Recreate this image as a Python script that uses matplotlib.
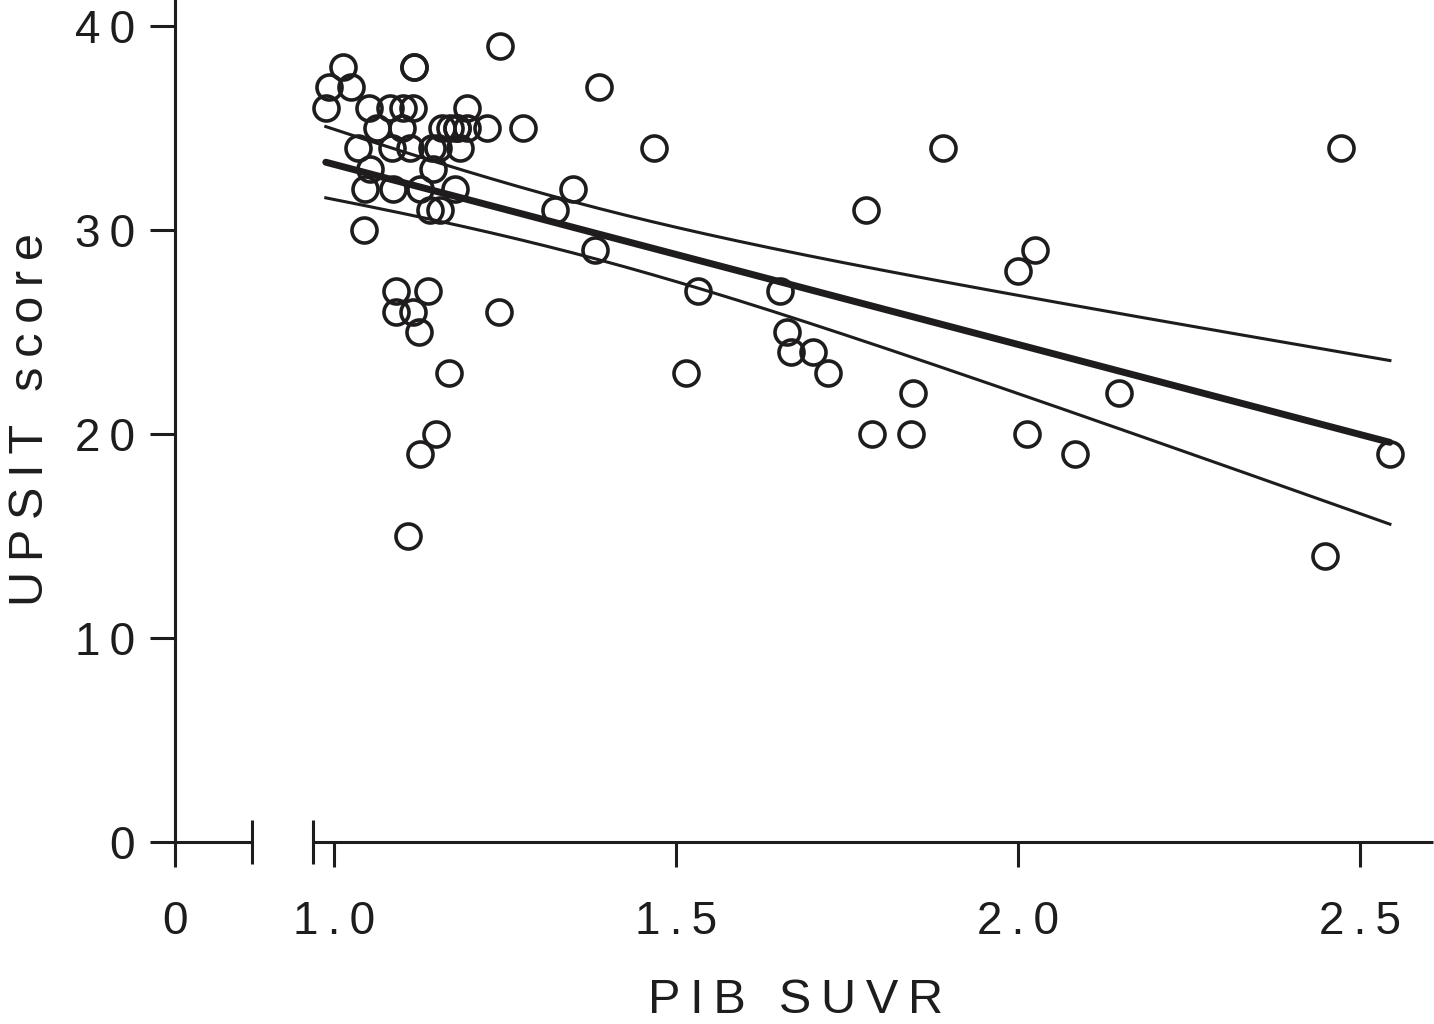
import numpy as np
import matplotlib
matplotlib.use("Agg")
import matplotlib.pyplot as plt
from matplotlib.scale import FuncScale

# ---- data ----
pib_suvr = [0.988, 0.993, 1.013, 1.025, 1.035, 1.045, 1.044, 1.051, 1.053, 1.063,
            1.082, 1.085, 1.086, 1.091, 1.091, 1.101, 1.099, 1.115, 1.111, 1.115,
            1.108, 1.117, 1.117, 1.126, 1.124, 1.126, 1.137, 1.140, 1.155, 1.143,
            1.152, 1.145, 1.149, 1.158, 1.170, 1.180, 1.180, 1.168, 1.177, 1.184,
            1.194, 1.194, 1.224, 1.241, 1.243, 1.276, 1.323, 1.349, 1.382, 1.387,
            1.468, 1.515, 1.532, 1.652, 1.662, 1.668, 1.700, 1.722, 1.778, 1.787,
            1.844, 1.846, 1.890, 2.000, 2.025, 2.013, 2.083, 2.148, 2.449, 2.472,
            2.544]
upsit = [36, 37, 38, 37, 34, 32, 30, 36, 33, 35,
         36, 34, 32, 27, 26, 36, 35, 36, 34, 26,
         15, 38, 38, 32, 25, 19, 27, 31, 31, 34,
         34, 33, 20, 35, 35, 35, 35, 23, 32, 34,
         36, 35, 35, 26, 39, 35, 31, 32, 29, 37,
         34, 23, 27, 27, 25, 24, 24, 23, 31, 20,
         20, 22, 34, 28, 29, 20, 19, 22, 14, 34,
         19]

x_ticks = [0, 1.0, 1.5, 2.0, 2.5]
x_tick_labels = ["0", "1.0", "1.5", "2.0", "2.5"]
y_ticks = [0, 10, 20, 30, 40]
y_tick_labels = ["0", "10", "20", "30", "40"]
x_label = "PIB SUVR"
y_label = "UPSIT score"

INK = "#1e1c1d"
TS = "\u2009"  # thin space used for letter spacing


def spaced(s):
    return TS.join(list(s))


plt.rcParams["font.family"] = ["Liberation Sans", "DejaVu Sans"]

W, H = 1434, 1024
fig = plt.figure(figsize=(W / 100, H / 100), dpi=100)
ax = fig.add_axes([175 / W, 182 / H, 1258 / W, 842 / H])

# broken x-axis: 0 placed just left of the break, linear from 0.95 upward
X0 = 0.7675


def fwd(x):
    x = np.asarray(x, dtype=float)
    return np.where(x >= 0.95, x, X0 + x * (0.95 - X0) / 0.95)


def inv(y):
    y = np.asarray(y, dtype=float)
    return np.where(y >= 0.95, y, (y - X0) * 0.95 / (0.95 - X0))


ax.set_xscale(FuncScale(ax, (fwd, inv)))
ax.set_xlim(0, 2.607)
ax.set_ylim(0, 41.27)

x = np.array(pib_suvr)
y = np.array(upsit, dtype=float)

# linear regression with 95% confidence band of the mean
n = len(x)
b1, b0 = np.polyfit(x, y, 1)
resid = y - (b0 + b1 * x)
s = np.sqrt(np.sum(resid ** 2) / (n - 2))
xs = np.linspace(x.min(), x.max(), 200)
yhat = b0 + b1 * xs
t = 1.994
se = s * np.sqrt(1 / n + (xs - x.mean()) ** 2 / np.sum((x - x.mean()) ** 2))

ax.plot(xs, yhat, color=INK, lw=5.0, solid_capstyle="round", zorder=3)
ax.plot(xs, yhat + t * se, color=INK, lw=2.2, zorder=3)
ax.plot(xs, yhat - t * se, color=INK, lw=2.2, zorder=3)

ax.plot(x, y, linestyle="none", marker="o", ms=18, mfc="none",
        mec=INK, mew=2.6, zorder=4, clip_on=False)

# spines
for side in ("top", "right", "bottom"):
    ax.spines[side].set_visible(False)
ax.spines["left"].set_linewidth(2.2)
ax.spines["left"].set_color(INK)

# custom bottom axis line with break
b_left = (252 - 175) / 1258
b_right = (313 - 175) / 1258
ax.plot([0, b_left], [0, 0], transform=ax.transAxes, color=INK, lw=2.2,
        clip_on=False, solid_capstyle="butt")
ax.plot([b_right, 1.0], [0, 0], transform=ax.transAxes, color=INK, lw=2.2,
        clip_on=False, solid_capstyle="butt")
h = 22 / 842
for bx in (b_left, b_right):
    ax.plot([bx, bx], [-h, h], transform=ax.transAxes, color=INK, lw=2.2,
            clip_on=False, solid_capstyle="butt")

ax.set_xticks(x_ticks)
ax.set_xticklabels([spaced(l) for l in x_tick_labels])
ax.set_yticks(y_ticks)
ax.set_yticklabels([spaced(l) for l in y_tick_labels])
ax.xaxis.set_minor_locator(matplotlib.ticker.NullLocator())
ax.tick_params(axis="both", direction="out", length=18, width=2.2, color=INK,
               labelsize=33, labelcolor=INK)
ax.tick_params(axis="x", pad=24)
ax.tick_params(axis="y", pad=11)

# axis titles placed explicitly
fig.text(796 / W, 1 - 1013 / H, spaced(x_label), fontsize=35, color=INK,
         ha="center", va="baseline")
fig.text(43 / W, 1 - 420 / H, spaced(y_label), fontsize=35, color=INK,
         ha="center", va="baseline", rotation=90, rotation_mode="anchor")

fig.savefig("out.png", dpi=100, facecolor="white")
